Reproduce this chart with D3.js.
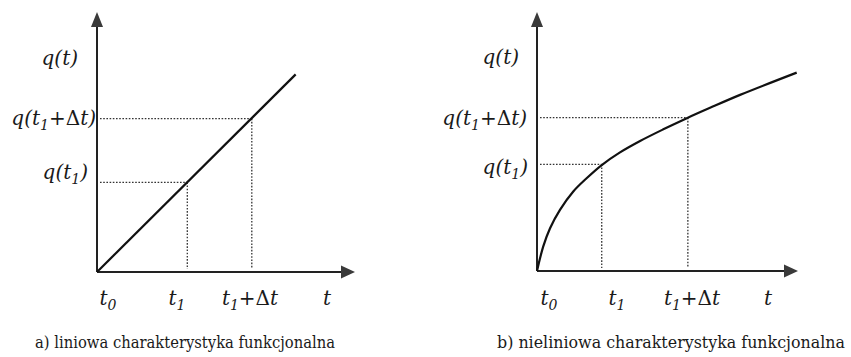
<!DOCTYPE html>
<html>
<head>
<meta charset="utf-8">
<script src="https://cdn.jsdelivr.net/npm/d3@7"></script>
</head>
<body style="margin:0;background:#fff">
<script>
// panel a) linear characteristic
var tLin = [0, 7.7];
var qLin = [0, 7.6];
var marksLin = { t: [3.5, 6.0], q: [3.45, 5.9] };

// panel b) nonlinear characteristic
var tNon = [0, 0.24, 0.5, 0.88, 1.39, 1.9, 2.48, 3.18, 3.95, 4.84, 5.74, 6.63, 7.78, 9.95];
var qNon = [0, 0.95, 1.65, 2.36, 3.07, 3.58, 4.09, 4.58, 5.02, 5.47, 5.9, 6.3, 6.8, 7.66];
var marksNon = { t: [2.48, 5.78], q: [4.12, 5.92] };

var captions = ["a) liniowa charakterystyka funkcjonalna", "b) nieliniowa charakterystyka funkcjonalna"];

var width = 851, height = 357;
// Liberation Serif resolves to a sans face here, so DejaVu Serif goes first
var serif = "'DejaVu Serif', serif";

var svg = d3.select("body").append("svg")
    .attr("width", width)
    .attr("height", height);

function drawPanel(cfg) {
    var g = svg.append("g");
    var xScale = d3.scaleLinear().domain([0, 10]).range([cfg.x0, cfg.x1]);
    var yScale = d3.scaleLinear().domain([0, 10]).range([cfg.y0, 12]);

    // dotted guides
    cfg.marks.t.forEach(function(t, i) {
        var q = cfg.marks.q[i];
        g.append("line")
            .attr("x1", xScale(0) + 3).attr("x2", xScale(t))
            .attr("y1", yScale(q)).attr("y2", yScale(q))
            .attr("stroke", "#333").attr("stroke-width", 1.3)
            .attr("stroke-dasharray", "1.6,1.6");
        g.append("line")
            .attr("x1", xScale(t)).attr("x2", xScale(t))
            .attr("y1", yScale(q)).attr("y2", yScale(0) - 3)
            .attr("stroke", "#333").attr("stroke-width", 1.3)
            .attr("stroke-dasharray", "1.6,1.6");
    });

    // axes
    g.append("line")
        .attr("x1", xScale(0)).attr("x2", xScale(0))
        .attr("y1", yScale(0)).attr("y2", 24)
        .attr("stroke", "#222").attr("stroke-width", 2);
    g.append("line")
        .attr("x1", xScale(0)).attr("x2", cfg.x1 - 10)
        .attr("y1", yScale(0)).attr("y2", yScale(0))
        .attr("stroke", "#222").attr("stroke-width", 2);
    // arrow heads
    var ax = xScale(0), ay = yScale(0);
    g.append("path")
        .attr("d", "M" + ax + ",12 L" + (ax - 6) + ",27 L" + (ax + 6) + ",27 Z")
        .attr("fill", "#3a3a3a");
    g.append("path")
        .attr("d", "M" + cfg.x1 + "," + ay + " L" + (cfg.x1 - 14) + "," + (ay - 6.5) + " L" + (cfg.x1 - 14) + "," + (ay + 6.5) + " Z")
        .attr("fill", "#3a3a3a");

    // characteristic
    var line = d3.line()
        .x(function(d) { return xScale(d[0]); })
        .y(function(d) { return yScale(d[1]); })
        .curve(d3.curveCatmullRom.alpha(0.5));
    g.append("path")
        .datum(d3.zip(cfg.t, cfg.q))
        .attr("d", line)
        .attr("fill", "none")
        .attr("stroke", "#111")
        .attr("stroke-width", 2.2);

    function mathLabel(x, y, anchor, parts) {
        var t = g.append("text")
            .attr("x", x).attr("y", y).attr("text-anchor", anchor)
            .style("font-family", serif)
            .style("font-style", "italic")
            .style("font-size", "20px")
            .attr("fill", "#1a1a1a");
        parts.forEach(function(p) {
            var s = t.append("tspan").text(p[0]);
            if (p[1] == "sub") s.style("font-size", "14px").attr("dy", 5);
            if (p[1] == "up") s.attr("dy", -5);
            if (p[1] == "upright") s.style("font-style", "normal");
            if (p[1] == "upright-up") s.style("font-style", "normal").attr("dy", -5);
        });
        return t;
    }
    var yl = cfg.ylab;
    mathLabel(yl[0][0], yl[0][1], "end", [["q(t)"]]);
    mathLabel(yl[1][0], yl[1][1], "end", [["q(t"], ["1", "sub"], ["+", "upright-up"], ["Δ", "upright"], ["t)"]]);
    mathLabel(yl[2][0], yl[2][1], "end", [["q(t"], ["1", "sub"], [")", "up"]]);

    var xl = cfg.xlab, by = 305;
    mathLabel(xl[0], by, "middle", [["t"], ["0", "sub"]]);
    mathLabel(xl[1], by, "middle", [["t"], ["1", "sub"]]);
    mathLabel(xl[2], by, "middle", [["t"], ["1", "sub"], ["+", "upright-up"], ["Δ", "upright"], ["t"]]);
    mathLabel(xl[3], by, "middle", [["t"]]);

    svg.append("text")
        .attr("x", cfg.capX).attr("y", 348)
        .attr("textLength", cfg.capW)
        .attr("lengthAdjust", "spacingAndGlyphs")
        .style("font-family", serif)
        .style("font-size", "16px")
        .attr("fill", "#1a1a1a")
        .text(cfg.caption);
}

drawPanel({
    x0: 97, x1: 355, y0: 272,
    t: tLin, q: qLin, marks: marksLin,
    ylab: [[78, 65], [96, 125], [88, 179]],
    xlab: [108, 177, 250, 327],
    capX: 35, capW: 300, caption: captions[0]
});
drawPanel({
    x0: 537, x1: 798, y0: 271,
    t: tNon, q: qNon, marks: marksNon,
    ylab: [[519, 64], [527, 125], [528, 174]],
    xlab: [549, 617, 692, 768],
    capX: 497, capW: 348, caption: captions[1]
});
</script>
</body>
</html>
